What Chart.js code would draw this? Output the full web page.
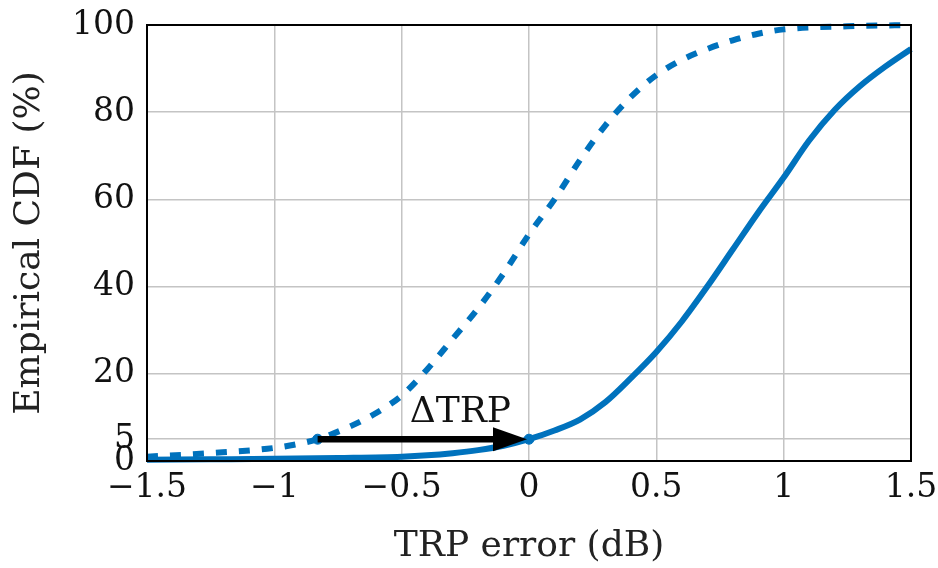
<!DOCTYPE html>
<html>
<head>
<meta charset="utf-8">
<script src="https://cdn.jsdelivr.net/npm/chart.js@4"></script>
<style>
  html, body { margin: 0; padding: 0; background: #fff; }
  #wrap { width: 938px; height: 568px; }
</style>
</head>
<body>
<div id="wrap"><canvas id="grafica"></canvas></div>
<script>
// TRP error (dB) sample points
const errDashed = [-1.5, -1.25, -1, -0.9, -0.83, -0.7, -0.6, -0.5, -0.4, -0.3, -0.2, -0.1, 0, 0.1, 0.2, 0.3, 0.4, 0.5, 0.6, 0.7, 0.8, 0.9, 1, 1.25, 1.5];
const cdfDashed = [1, 1.8, 3, 4, 5, 8, 11, 15, 21, 28, 35, 43, 52, 60, 69, 77, 83.5, 88.5, 92, 94.5, 96.5, 98, 99, 99.7, 100];

const errSolid = [-1.5, -1.25, -1, -0.75, -0.5, -0.4, -0.3, -0.2, -0.1, 0, 0.1, 0.2, 0.3, 0.4, 0.5, 0.6, 0.7, 0.8, 0.9, 1, 1.1, 1.2, 1.3, 1.4, 1.5];
const cdfSolid = [0.3, 0.4, 0.5, 0.7, 1, 1.3, 1.8, 2.5, 3.5, 5, 7, 9.5, 13.5, 19, 25, 32, 40, 48.5, 57, 65, 73.5, 80.5, 86, 90.5, 94.5];

// ΔTRP arrow at the 5 % level
const arrowFrom = [-0.83, 5];
const arrowTo = [0, 5];

const yTicks = [0, 5, 20, 40, 60, 80, 100];

const blue = 'rgb(0, 114, 189)';
const serif = "'DejaVu Serif', 'Liberation Serif', serif";

const toPts = (xs, ys) => xs.map((x, i) => ({ x: x, y: ys[i] }));

const boxAndArrow = {
    id: 'boxAndArrow',
    afterDatasetsDraw(chart) {
        const { ctx, chartArea: a, scales: { x, y } } = chart;
        ctx.save();
        // arrow
        const x0 = x.getPixelForValue(arrowFrom[0]);
        const x1 = x.getPixelForValue(arrowTo[0]);
        const yy = y.getPixelForValue(arrowTo[1]);
        ctx.strokeStyle = '#000';
        ctx.fillStyle = '#000';
        ctx.lineWidth = 6.5;
        ctx.beginPath();
        ctx.moveTo(x0, yy);
        ctx.lineTo(x1 - 28, yy);
        ctx.stroke();
        ctx.beginPath();
        ctx.moveTo(x1 - 2, yy);
        ctx.lineTo(x1 - 36, yy - 12);
        ctx.lineTo(x1 - 36, yy + 12);
        ctx.closePath();
        ctx.fill();
        // label
        ctx.fillStyle = '#111';
        ctx.font = '36px ' + serif;
        ctx.textAlign = 'center';
        ctx.textBaseline = 'alphabetic';
        ctx.fillText('ΔTRP', (x0 + x1) / 2 + 37, yy - 17);
        // frame
        ctx.lineWidth = 2;
        ctx.strokeStyle = '#000';
        ctx.strokeRect(a.left, a.top, a.right - a.left, a.bottom - a.top);
        ctx.restore();
    }
};

const config = {
    type: 'scatter',
    data: {
        datasets: [
            {
                label: 'dashed',
                data: toPts(errDashed, cdfDashed),
                showLine: true,
                borderColor: blue,
                borderWidth: 6,
                borderDash: [11, 12],
                pointRadius: 0,
                cubicInterpolationMode: 'monotone',
                clip: false
            },
            {
                label: 'solid',
                data: toPts(errSolid, cdfSolid),
                showLine: true,
                borderColor: blue,
                borderWidth: 6,
                pointRadius: 0,
                cubicInterpolationMode: 'monotone',
                clip: false
            },
            {
                label: 'marks',
                data: [{ x: arrowFrom[0], y: arrowFrom[1] }, { x: arrowTo[0], y: arrowTo[1] }],
                backgroundColor: blue,
                borderColor: blue,
                pointRadius: 5,
                showLine: false,
                clip: false
            }
        ]
    },
    options: {
        responsive: true,
        maintainAspectRatio: false,
        animation: false,
        layout: { padding: { top: 25, right: 27, left: 0, bottom: 0 } },
        plugins: { legend: { display: false }, tooltip: { enabled: false } },
        scales: {
            x: {
                type: 'linear',
                min: -1.5,
                max: 1.5,
                ticks: {
                    stepSize: 0.5,
                    color: '#111',
                    font: { family: serif, size: 33 },
                    padding: 8,
                    maxRotation: 0,
                    callback: v => String(v).replace('-', '\u2212')
                },
                grid: { color: '#c4c4c4', lineWidth: 1.5, drawTicks: false },
                border: { display: false },
                title: {
                    display: true,
                    text: 'TRP error (dB)',
                    color: '#222',
                    font: { family: serif, size: 36 },
                    padding: { top: 0, bottom: 0 }
                },
                afterFit: s => {
                    s.height = 107;
                    s.paddingLeft = 0;
                    s.paddingRight = 0;
                }
            },
            y: {
                type: 'linear',
                min: 0,
                max: 100,
                afterBuildTicks: s => { s.ticks = yTicks.map(v => ({ value: v })); },
                ticks: {
                    color: '#111',
                    font: { family: serif, size: 33 },
                    padding: 12
                },
                grid: { color: '#c4c4c4', lineWidth: 1.5, drawTicks: false },
                border: { display: false },
                title: {
                    display: true,
                    text: 'Empirical CDF (%)',
                    color: '#222',
                    font: { family: serif, size: 36 },
                    padding: { top: 8, bottom: 0 }
                },
                afterFit: s => {
                    s.width = 147;
                    s.paddingTop = 0;
                    s.paddingBottom = 0;
                }
            }
        }
    },
    plugins: [boxAndArrow]
};

new Chart(document.getElementById('grafica'), config);
</script>
</body>
</html>
